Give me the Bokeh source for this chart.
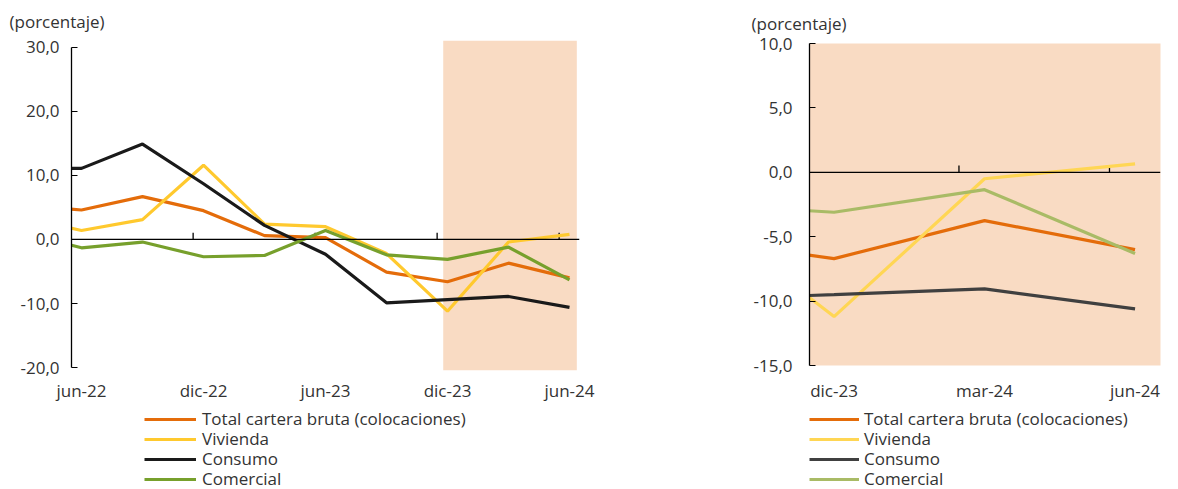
from bokeh.plotting import figure
from bokeh.models import (LinearAxis, FixedTicker, CustomJSTickFormatter, Legend,
                          LegendItem, Range1d, BoxAnnotation, Span)
from bokeh.layouts import row, column
from bokeh.embed import file_html
from bokeh.resources import INLINE

FONT = "Open Sans"
FS = "17px"
TEXT = "#333333"
SHADE = "#f9dbc3"

series_names = ["Total cartera bruta (colocaciones)", "Vivienda", "Consumo", "Comercial"]

# ---- Left panel: quarterly data (mar-22 only partly visible at the left edge)
quarters_l = ["mar-22", "jun-22", "sep-22", "dic-22", "mar-23", "jun-23",
              "sep-23", "dic-23", "mar-24", "jun-24"]
total_l     = [5.5, 4.6, 6.7, 4.5, 0.6, 0.3, -5.1, -6.6, -3.7, -6.0]
vivienda_l  = [3.6, 1.4, 3.1, 11.6, 2.4, 2.0, -2.2, -11.2, -0.4, 0.8]
consumo_l   = [11.1, 11.1, 14.9, 8.7, 2.2, -2.3, -9.9, -9.4, -8.9, -10.6]
comercial_l = [1.2, -1.3, -0.4, -2.7, -2.5, 1.4, -2.4, -3.1, -1.2, -6.3]
labels_shown_l = ["jun-22", "dic-22", "jun-23", "dic-23", "jun-24"]
yticks_l = [-20, -10, 0, 10, 20, 30]
colors_l = ["#e46c0a", "#ffc92e", "#1a1a1a", "#77a02c"]

# ---- Right panel: zoom on the last quarters (sep-23 only partly visible)
quarters_r = ["sep-23", "dic-23", "mar-24", "jun-24"]
total_r     = [-5.1, -6.7, -3.75, -6.0]
vivienda_r  = [-2.2, -11.2, -0.5, 0.65]
consumo_r   = [-9.9, -9.5, -9.05, -10.6]
comercial_r = [-2.4, -3.1, -1.35, -6.3]
labels_shown_r = ["dic-23", "mar-24", "jun-24"]
yticks_r = [-15, -10, -5, 0, 5, 10]
colors_r = ["#e46c0a", "#ffd654", "#404040", "#a9bb66"]

TICK_SHIFT = -0.17
TICK_PX = 7
H_CHART = 404
H_LEG = 82
LEG_ROW = 20          # distance between legend rows (px)
LEG_FIRST_BOTTOM = 56  # bottom of the first legend row above the strip's bottom (px)


def make_fig(quarters, series, colors, shown, x_rng, y_rng, y_bounds, y_ticks,
             width, border_left, border_right, border_top, frame_h, title_offset,
             title_standoff, bg="white", shade=None, ylab_standoff=10, xlab_standoff=10):
    p = figure(width=width, height=H_CHART, x_range=Range1d(*x_rng), y_range=Range1d(*y_rng),
               output_backend="svg", toolbar_location=None, x_axis_location=None,
               y_axis_location="left",
               min_border_left=border_left, min_border_right=border_right,
               min_border_top=border_top, min_border_bottom=H_CHART - border_top - frame_h)
    p.outline_line_color = None
    p.grid.visible = False
    p.background_fill_color = bg
    p.border_fill_color = "white"

    p.title.text = "(porcentaje)"
    p.title.text_font = FONT
    p.title.text_font_size = FS
    p.title.text_font_style = "normal"
    p.title.text_color = TEXT
    p.title.align = "left"
    p.title.offset = title_offset
    p.title.standoff = title_standoff

    if shade is not None:
        p.add_layout(BoxAnnotation(left=shade[0], right=shade[1], fill_color=SHADE,
                                   fill_alpha=1.0, line_color=None, level="underlay"))

    pos = [quarters.index(s) - 1 for s in shown]
    p.add_layout(Span(location=0, dimension="width", line_color="black", line_width=1.3))
    zt = [q + TICK_SHIFT for q in pos]
    tick_len = TICK_PX * (y_rng[1] - y_rng[0]) / frame_h
    p.segment(x0=zt, x1=zt, y0=[0] * len(zt), y1=[tick_len] * len(zt),
              line_color="black", line_width=1.3)

    x = list(range(-1, len(quarters) - 1))
    for vals, col in zip(series, colors):
        p.line(x, vals, line_color=col, line_width=3.2)

    ya = p.yaxis[0]
    ya.ticker = FixedTicker(ticks=y_ticks)
    ya.formatter = CustomJSTickFormatter(code="return tick.toFixed(1).replace('.', ',');")
    ya.bounds = y_bounds
    ya.axis_line_color = "black"
    ya.axis_line_width = 1.3
    ya.major_tick_line_color = "black"
    ya.major_tick_in = 6
    ya.major_tick_out = 0
    ya.minor_tick_line_color = None
    ya.minor_tick_in = 0
    ya.minor_tick_out = 0
    ya.major_label_text_font = FONT
    ya.major_label_text_font_size = FS
    ya.major_label_text_color = TEXT
    ya.major_label_standoff = ylab_standoff

    xa = LinearAxis(ticker=FixedTicker(ticks=pos),
                    formatter=CustomJSTickFormatter(args=dict(labels=quarters),
                                                    code="return labels[Math.round(tick) + 1];"))
    xa.axis_line_color = None
    xa.major_tick_line_color = None
    xa.minor_tick_line_color = None
    xa.major_tick_in = 0
    xa.major_tick_out = 0
    xa.minor_tick_in = 0
    xa.minor_tick_out = 0
    xa.major_label_text_font = FONT
    xa.major_label_text_font_size = FS
    xa.major_label_text_color = TEXT
    xa.major_label_standoff = xlab_standoff
    p.add_layout(xa, "below")
    return p


def make_legend(quarters, series, colors, width, legend_x, glyph_w, standoff):
    # legend strip below the chart; its lines are kept out of view, only the key shows
    lp = figure(width=width, height=H_LEG, output_backend="svg", toolbar_location=None,
                x_axis_location=None, y_axis_location=None, min_border=0,
                x_range=Range1d(100, 101), y_range=Range1d(100, 101))
    lp.outline_line_color = None
    lp.grid.visible = False
    lp.background_fill_color = "white"
    x = list(range(-1, len(quarters) - 1))
    for k, (name, vals, col) in enumerate(zip(series_names, series, colors)):
        r = lp.line(x, vals, line_color=col, line_width=3.2)
        legend = Legend(items=[LegendItem(label=name, renderers=[r])],
                        location=(legend_x, LEG_FIRST_BOTTOM - k * LEG_ROW),
                        orientation="vertical",
                        glyph_width=glyph_w, glyph_height=20, label_height=20, spacing=0,
                        padding=0, margin=0, border_line_alpha=0, background_fill_alpha=0,
                        label_text_font=FONT, label_text_font_size=FS,
                        label_text_color=TEXT, label_standoff=standoff)
        lp.add_layout(legend, "center")
    return lp


series_l = [total_l, vivienda_l, consumo_l, comercial_l]
series_r = [total_r, vivienda_r, consumo_r, comercial_r]

p1 = make_fig(quarters_l, series_l, colors_l,
              labels_shown_l, (-0.164, 8.164), (-20.46, 31.07), (-20, 30), yticks_l,
              width=692, border_left=71, border_right=113, border_top=35, frame_h=338,
              title_offset=-62, title_standoff=15,
              shade=(5.93, 8.12), ylab_standoff=12, xlab_standoff=8)
l1 = make_legend(quarters_l, series_l, colors_l, 692, 73, 52, 6)

p2 = make_fig(quarters_r, series_r, colors_r,
              labels_shown_r, (-0.163, 2.169), (-15, 10), (-15, 10), yticks_r,
              width=470, border_left=117, border_right=2, border_top=38, frame_h=332,
              title_offset=-58, title_standoff=18,
              bg=SHADE, ylab_standoff=17, xlab_standoff=13)
l2 = make_legend(quarters_r, series_r, colors_r, 470, 0, 50, 5)

layout = row(column(p1, l1), column(p2, l2))
open("out.html", "w").write(file_html(layout, INLINE))
